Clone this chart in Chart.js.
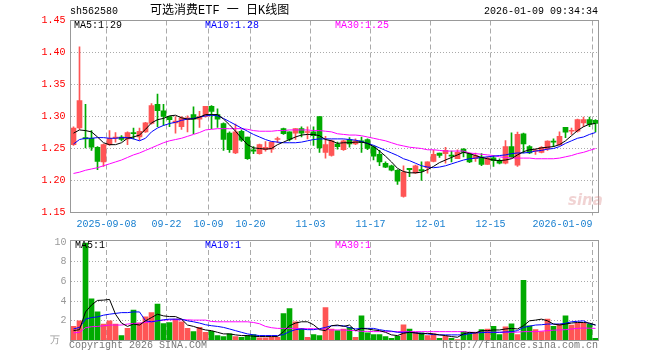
<!DOCTYPE html>
<html>
<head>
<meta charset="utf-8">
<script src="https://cdn.jsdelivr.net/npm/chart.js@4.4.1/dist/chart.umd.min.js"></script>
<style>
  html, body { margin: 0; padding: 0; background: #fff; }
  #wrap { position: relative; width: 660px; height: 360px; overflow: hidden;
          font: 10px "Liberation Mono", "DejaVu Sans Mono", monospace; }
  canvas { position: absolute; left: 0; }
  .t { position: absolute; white-space: pre; line-height: 10px; }
  .frame { position: absolute; border: 1px solid #999; box-sizing: border-box; pointer-events: none; }
</style>
</head>
<body>
<div id="wrap">
  <canvas id="kline" width="660" height="232" style="top:0"></canvas>
  <canvas id="vol" width="660" height="128" style="top:232px"></canvas>

  <div class="frame" style="left:70px;top:20px;width:529px;height:193px"></div>
  <div class="frame" style="left:70px;top:240px;width:529px;height:101px"></div>

  <div class="t" style="left:70px;top:7px;color:#000">sh562580</div>
  <div class="t" style="left:150px;top:4px;font-size:12px;line-height:14px;font-family:'Liberation Mono','Noto Sans CJK SC',monospace">可选消费ETF 一 日K线图</div>
  <div class="t" style="left:484px;top:7px;color:#000">2026-01-09 09:34:34</div>

  <div class="t" style="left:74px;top:21px;color:#000">MA5:1.29</div>
  <div class="t" style="left:205px;top:21px;color:#0000ff">MA10:1.28</div>
  <div class="t" style="left:335px;top:21px;color:#ff00ff">MA30:1.25</div>

  <div class="t" style="left:75px;top:241px;color:#000">MA5:1</div>
  <div class="t" style="left:205px;top:241px;color:#0000ff">MA10:1</div>
  <div class="t" style="left:335px;top:241px;color:#ff00ff">MA30:1</div>

  <div class="t" style="left:50px;top:336px;color:#999">万</div>
  <div class="t" style="left:69px;top:341px;color:#777">Copyright 2026 SINA.COM</div>
  <div class="t" style="left:442px;top:341px;color:#777">http://finance.sina.com.cn</div>
  <div class="t" style="left:568px;top:192px;font:italic bold 15px 'DejaVu Sans',sans-serif;line-height:16px;color:rgba(215,130,130,0.35)">sina</div>
</div>

<script>
// trading days shown, oldest first
const DATES = [
  '2025-08-29',
  '2025-09-01', '2025-09-02', '2025-09-03', '2025-09-04', '2025-09-05',
  '2025-09-08', '2025-09-09', '2025-09-10', '2025-09-11', '2025-09-12',
  '2025-09-15', '2025-09-16', '2025-09-17', '2025-09-18', '2025-09-19',
  '2025-09-22', '2025-09-23', '2025-09-24', '2025-09-25', '2025-09-26',
  '2025-09-29', '2025-09-30', '2025-10-09', '2025-10-10',
  '2025-10-13', '2025-10-14', '2025-10-15', '2025-10-16', '2025-10-17',
  '2025-10-20', '2025-10-21', '2025-10-22', '2025-10-23', '2025-10-24',
  '2025-10-27', '2025-10-28', '2025-10-29', '2025-10-30', '2025-10-31',
  '2025-11-03', '2025-11-04', '2025-11-05', '2025-11-06', '2025-11-07',
  '2025-11-10', '2025-11-11', '2025-11-12', '2025-11-13', '2025-11-14',
  '2025-11-17', '2025-11-18', '2025-11-19', '2025-11-20', '2025-11-21',
  '2025-11-24', '2025-11-25', '2025-11-26', '2025-11-27', '2025-11-28',
  '2025-12-01', '2025-12-02', '2025-12-03', '2025-12-04', '2025-12-05',
  '2025-12-08', '2025-12-09', '2025-12-10', '2025-12-11', '2025-12-12',
  '2025-12-15', '2025-12-16', '2025-12-17', '2025-12-18', '2025-12-19',
  '2025-12-22', '2025-12-23', '2025-12-24', '2025-12-25', '2025-12-26',
  '2025-12-29', '2025-12-30', '2025-12-31',
  '2026-01-05', '2026-01-06', '2026-01-07', '2026-01-08', '2026-01-09',
];

const OPEN = [
  1.256, 1.282, 1.267, 1.266, 1.252, 1.229, 1.256, 1.266, 1.268, 1.265,
  1.275, 1.268, 1.276, 1.289, 1.319, 1.309, 1.300, 1.290, 1.284, 1.295,
  1.303, 1.296, 1.300, 1.316, 1.303, 1.289, 1.274, 1.243, 1.277, 1.268,
  1.248, 1.242, 1.248, 1.249, 1.264, 1.281, 1.276, 1.274, 1.281, 1.275,
  1.276, 1.300, 1.244, 1.239, 1.257, 1.248, 1.264, 1.257, 1.262, 1.264,
  1.253, 1.241, 1.227, 1.223, 1.216, 1.175, 1.219, 1.212, 1.217, 1.220,
  1.230, 1.243, 1.242, 1.239, 1.234, 1.249, 1.242, 1.234, 1.2365, 1.225,
  1.2355, 1.231, 1.227, 1.253, 1.224, 1.273, 1.253, 1.246, 1.244, 1.2495,
  1.261, 1.256, 1.283, 1.277, 1.277, 1.290, 1.295, 1.294,
];
const HIGH = [
  1.284, 1.409, 1.319, 1.278, 1.253, 1.257, 1.278, 1.275, 1.270, 1.276,
  1.282, 1.282, 1.291, 1.320, 1.335, 1.319, 1.300, 1.300, 1.300, 1.301,
  1.315, 1.308, 1.316, 1.317, 1.312, 1.290, 1.276, 1.288, 1.279, 1.268,
  1.253, 1.257, 1.261, 1.260, 1.268, 1.282, 1.276, 1.281, 1.284, 1.284,
  1.284, 1.300, 1.269, 1.263, 1.260, 1.263, 1.267, 1.265, 1.268, 1.265,
  1.254, 1.247, 1.229, 1.224, 1.217, 1.223, 1.219, 1.224, 1.229, 1.229,
  1.247, 1.243, 1.252, 1.246, 1.248, 1.250, 1.243, 1.243, 1.242, 1.237,
  1.239, 1.234, 1.2625, 1.2745, 1.2755, 1.274, 1.2547, 1.2495, 1.253, 1.262,
  1.265, 1.276, 1.283, 1.282, 1.296, 1.299, 1.299, 1.295,
];
const LOW = [
  1.255, 1.280, 1.251, 1.247, 1.217, 1.222, 1.255, 1.260, 1.262, 1.256,
  1.265, 1.263, 1.275, 1.288, 1.284, 1.286, 1.284, 1.274, 1.280, 1.276,
  1.273, 1.283, 1.299, 1.281, 1.283, 1.247, 1.244, 1.242, 1.261, 1.233,
  1.242, 1.241, 1.246, 1.244, 1.259, 1.272, 1.262, 1.264, 1.268, 1.265,
  1.255, 1.244, 1.235, 1.238, 1.249, 1.247, 1.252, 1.256, 1.244, 1.248,
  1.232, 1.223, 1.220, 1.215, 1.194, 1.174, 1.206, 1.211, 1.200, 1.2115,
  1.229, 1.236, 1.227, 1.229, 1.234, 1.237, 1.228, 1.230, 1.223, 1.225,
  1.222, 1.226, 1.226, 1.236, 1.222, 1.243, 1.242, 1.2406, 1.243, 1.247,
  1.253, 1.255, 1.267, 1.272, 1.2755, 1.284, 1.284, 1.276,
];
const CLOSE = [
  1.282, 1.325, 1.265, 1.252, 1.230, 1.256, 1.266, 1.268, 1.264, 1.275,
  1.273, 1.277, 1.290, 1.317, 1.309, 1.300, 1.295, 1.293, 1.298, 1.298,
  1.296, 1.300, 1.316, 1.308, 1.296, 1.264, 1.248, 1.276, 1.263, 1.234,
  1.246, 1.256, 1.252, 1.260, 1.265, 1.273, 1.264, 1.281, 1.274, 1.276,
  1.270, 1.251, 1.256, 1.262, 1.253, 1.262, 1.257, 1.262, 1.259, 1.250,
  1.238, 1.229, 1.221, 1.216, 1.199, 1.213, 1.217, 1.223, 1.215, 1.229,
  1.241, 1.239, 1.247, 1.238, 1.244, 1.244, 1.229, 1.239, 1.225, 1.2355,
  1.231, 1.227, 1.253, 1.237, 1.272, 1.257, 1.243, 1.247, 1.252, 1.2615,
  1.260, 1.269, 1.2755, 1.278, 1.295, 1.295, 1.2875, 1.289,
];

// moving averages as drawn on the price panel
const MA5 = [
  1.274, 1.279, 1.278, 1.276, 1.268, 1.259, 1.256, 1.256, 1.259, 1.266,
  1.268, 1.271, 1.280, 1.290, 1.295, 1.297, 1.301, 1.302, 1.298, 1.296,
  1.296, 1.299, 1.303, 1.303, 1.303, 1.296, 1.287, 1.277, 1.266, 1.256,
  1.251, 1.250, 1.249, 1.250, 1.256, 1.260, 1.264, 1.268, 1.271, 1.272,
  1.272, 1.270, 1.264, 1.262, 1.258, 1.259, 1.259, 1.260, 1.260, 1.258,
  1.253, 1.246, 1.238, 1.229, 1.219, 1.214, 1.212, 1.212, 1.213, 1.217,
  1.222, 1.228, 1.232, 1.236, 1.240, 1.244, 1.242, 1.239, 1.236, 1.234,
  1.232, 1.231, 1.232, 1.234, 1.240, 1.245, 1.248, 1.249, 1.251, 1.252,
  1.253, 1.256, 1.262, 1.270, 1.278, 1.284, 1.288, 1.289,
];
const MA10 = [
  1.257, 1.264, 1.266, 1.266, 1.267, 1.267, 1.266, 1.266, 1.267, 1.267,
  1.265, 1.262, 1.266, 1.276, 1.282, 1.286, 1.289, 1.291, 1.294, 1.296,
  1.297, 1.299, 1.301, 1.302, 1.301, 1.297, 1.292, 1.287, 1.282, 1.277,
  1.272, 1.268, 1.264, 1.261, 1.260, 1.259, 1.259, 1.259, 1.260, 1.262,
  1.264, 1.265, 1.265, 1.265, 1.265, 1.265, 1.264, 1.263, 1.261, 1.258,
  1.255, 1.251, 1.247, 1.243, 1.239, 1.234, 1.231, 1.227, 1.223, 1.221,
  1.220, 1.221, 1.223, 1.226, 1.229, 1.232, 1.234, 1.235, 1.236, 1.237,
  1.238, 1.239, 1.240, 1.242, 1.243, 1.243, 1.244, 1.246, 1.247, 1.249,
  1.250, 1.253, 1.258, 1.262, 1.266, 1.268, 1.272, 1.275,
];
const MA30 = [
  1.211, 1.213, 1.216, 1.218, 1.220, 1.223, 1.226, 1.229, 1.232, 1.236,
  1.240, 1.243, 1.247, 1.251, 1.255, 1.259, 1.262, 1.264, 1.266, 1.269,
  1.272, 1.275, 1.279, 1.280, 1.281, 1.281, 1.281, 1.281, 1.281, 1.280,
  1.278, 1.277, 1.277, 1.277, 1.278, 1.278, 1.279, 1.279, 1.279, 1.279,
  1.278, 1.278, 1.277, 1.276, 1.273, 1.272, 1.271, 1.271, 1.270, 1.268,
  1.266, 1.264, 1.262, 1.259, 1.256, 1.254, 1.252, 1.251, 1.250, 1.248,
  1.248, 1.247, 1.246, 1.246, 1.246, 1.246, 1.243, 1.242, 1.241, 1.240,
  1.239, 1.237, 1.236, 1.235, 1.235, 1.235, 1.235, 1.234, 1.234, 1.234,
  1.234, 1.235, 1.237, 1.239, 1.242, 1.244, 1.247, 1.250,
];

// volume, in 万
const VOLUME = [
  1.43, 2.0, 9.9, 4.23, 2.9, 1.67, 2.0, 1.67, 0.5, 1.23,
  3.1, 1.77, 2.4, 2.83, 3.7, 1.73, 1.83, 2.17, 1.9, 1.23,
  0.9, 1.33, 0.83, 0.93, 0.5, 0.4, 0.67, 0.4, 0.33, 0.5,
  0.6, 0.27, 0.27, 0.33, 0.33, 2.73, 3.23, 1.9, 1.23, 0.33,
  0.6, 0.5, 3.33, 1.17, 1.0, 1.17, 1.33, 0.33, 2.5, 0.77,
  0.6, 0.6, 0.4, 0.23, 0.43, 1.6, 1.17, 0.83, 0.77, 0.5,
  0.67, 0.23, 0.43, 0.23, 0.1, 0.93, 0.83, 0.83, 1.1, 1.17,
  1.43, 0.6, 1.4, 1.7, 0.6, 6.1, 1.5, 1.1, 0.9, 2.17,
  1.43, 1.67, 2.5, 1.57, 1.77, 1.77, 1.67, 0.23,
];
const VOL_MA5 = [
  1.0, 1.1, 2.9, 3.6, 4.07, 4.1, 4.17, 2.67, 1.77, 1.43,
  1.67, 1.57, 2.0, 2.33, 2.67, 2.5, 2.43, 2.43, 2.17, 1.57,
  1.43, 1.23, 1.07, 1.0, 0.83, 0.67, 0.67, 0.57, 0.5, 0.5,
  0.43, 0.4, 0.4, 0.4, 0.4, 0.9, 1.5, 1.77, 1.9, 1.9,
  1.6, 1.1, 1.0, 1.5, 1.57, 1.43, 1.57, 1.0, 1.23, 1.17,
  1.07, 1.0, 0.83, 0.57, 0.5, 0.73, 0.83, 0.77, 0.67, 0.73,
  0.67, 0.57, 0.5, 0.4, 0.33, 0.67, 0.83, 0.77, 1.0, 1.0,
  1.07, 1.07, 1.17, 1.23, 1.17, 1.5, 2.0, 2.07, 2.17, 2.0,
  1.67, 1.57, 1.67, 1.77, 1.83, 1.83, 1.77, 1.57,
];
const VOL_MA10 = [
  1.17, 1.33, 2.17, 2.33, 2.4, 2.57, 2.67, 2.75, 2.83, 2.83,
  2.9, 2.9, 2.0, 1.9, 2.0, 2.1, 2.17, 2.17, 2.17, 2.0,
  1.9, 1.77, 1.6, 1.5, 1.43, 1.33, 1.17, 1.0, 0.83, 0.67,
  0.57, 0.5, 0.5, 0.5, 0.5, 0.6, 0.9, 1.1, 1.17, 1.1,
  1.1, 1.2, 1.33, 1.5, 1.5, 1.5, 1.3, 1.17, 1.23, 1.23,
  1.23, 1.1, 1.0, 0.95, 0.83, 0.83, 0.83, 0.77, 0.73, 0.67,
  0.6, 0.57, 0.57, 0.57, 0.57, 0.57, 0.7, 0.77, 0.8, 0.83,
  0.83, 0.83, 0.87, 0.9, 1.0, 1.33, 1.45, 1.57, 1.6, 1.67,
  1.67, 1.67, 1.75, 1.9, 1.95, 2.0, 1.7, 1.57,
];
const VOL_MA30 = [
  0.77, 0.83, 1.3, 1.4, 1.43, 1.5, 1.57, 1.57, 1.57, 1.67,
  1.73, 1.77, 1.83, 1.9, 2.0, 2.07, 2.1, 2.1, 2.1, 2.1,
  2.07, 2.07, 2.07, 1.93, 1.9, 1.9, 1.9, 1.9, 1.9, 1.9,
  1.83, 1.7, 1.43, 1.3, 1.23, 1.23, 1.23, 1.23, 1.2, 1.2,
  1.2, 1.17, 1.17, 1.07, 1.07, 1.07, 1.03, 1.0, 0.93, 0.93,
  0.9, 0.9, 0.9, 0.9, 0.9, 0.9, 0.9, 0.9, 0.9, 0.9,
  0.9, 0.9, 0.9, 0.9, 0.9, 0.9, 0.83, 0.83, 0.83, 0.83,
  0.83, 0.83, 0.83, 0.83, 0.85, 0.9, 0.9, 0.9, 0.95, 1.0,
  1.05, 1.07, 1.1, 1.17, 1.23, 1.27, 1.25, 1.23,
];

// axis text
const DATE_LABELS = {
  '2025-09-08': '2025-09-08', '2025-09-22': '09-22', '2025-10-09': '10-09',
  '2025-10-20': '10-20', '2025-11-03': '11-03', '2025-11-17': '11-17',
  '2025-12-01': '12-01', '2025-12-15': '12-15', '2026-01-09': '2026-01-09',
};
const GRID_DATES = [
  '2025-09-08', '2025-09-22', '2025-10-09', '2025-10-20', '2025-11-03',
  '2025-11-17', '2025-12-01', '2025-12-15', '2026-01-09',
];
const PRICE_MIN = 1.15, PRICE_MAX = 1.45, PRICE_STEP = 0.05;
const VOL_MIN = 0, VOL_MAX = 10, VOL_STEP = 2;

// palette
const UP   = '#ff5555';
const DOWN = '#00aa00';
const GRIDC = '#aaaaaa';
const monoFont = { family: "'Liberation Mono', 'DejaVu Sans Mono', monospace", size: 10 };

const candleColor = OPEN.map((o, i) => (CLOSE[i] >= o ? UP : DOWN));
const gridIdx = new Set(GRID_DATES.map(d => DATES.indexOf(d)));

const xGridColor = ctx => (gridIdx.has(ctx.index) ? GRIDC : 'rgba(0,0,0,0)');

function lineSet(label, data, color) {
  return {
    type: 'line', label, data,
    borderColor: color, borderWidth: 1,
    pointRadius: 0, tension: 0, fill: false,
  };
}

// --------------------------------------------------------
// Price panel (candles + MA)
// --------------------------------------------------------
new Chart(document.getElementById('kline'), {
  type: 'bar',
  data: {
    labels: DATES,
    datasets: [
      lineSet('MA5', MA5, '#000000'),
      lineSet('MA10', MA10, '#0000ff'),
      lineSet('MA30', MA30, '#ff00ff'),
      {
        label: 'body',
        data: OPEN.map((o, i) => [o, CLOSE[i]]),
        backgroundColor: candleColor,
        barThickness: 5,
        minBarLength: 1,
        grouped: false,
      },
      {
        label: 'wick',
        data: LOW.map((l, i) => [l, HIGH[i]]),
        backgroundColor: candleColor,
        barThickness: 1,
        grouped: false,
      },
    ],
  },
  options: {
    responsive: false,
    animation: false,
    layout: { padding: { left: 0, right: 61.5, top: 20.5, bottom: 0 } },
    plugins: { legend: { display: false }, tooltip: { enabled: false } },
    scales: {
      x: {
        offset: true,
        border: { display: false, dash: [5, 3] },
        grid: { color: xGridColor, tickColor: xGridColor, tickLength: 3, offset: true },
        ticks: {
          autoSkip: false, maxRotation: 0, minRotation: 0,
          align: 'inner', labelOffset: -3, padding: 3,
          color: '#1a80d0', font: monoFont,
          callback: (v, i) => DATE_LABELS[DATES[i]] || '',
        },
        afterFit: s => { s.height = 19.5; },
      },
      y: {
        min: PRICE_MIN, max: PRICE_MAX,
        border: { display: false, dash: [1, 2] },
        grid: {
          drawTicks: false,
          color: c => (c.tick.value > PRICE_MIN + 0.001 && c.tick.value < PRICE_MAX - 0.001 ? GRIDC : 'rgba(0,0,0,0)'),
        },
        ticks: {
          stepSize: PRICE_STEP, padding: 5, color: '#ff0000', font: monoFont,
          callback: v => v.toFixed(2),
        },
        afterFit: s => { s.width = 70.5; },
      },
    },
  },
});

// --------------------------------------------------------
// Volume panel
// --------------------------------------------------------
new Chart(document.getElementById('vol'), {
  type: 'bar',
  data: {
    labels: DATES,
    datasets: [
      lineSet('MA5', VOL_MA5, '#000000'),
      lineSet('MA10', VOL_MA10, '#0000ff'),
      lineSet('MA30', VOL_MA30, '#ff00ff'),
      {
        label: 'volume',
        data: VOLUME,
        backgroundColor: candleColor,
        barThickness: 5,
        grouped: false,
      },
    ],
  },
  options: {
    responsive: false,
    animation: false,
    layout: { padding: { left: 0, right: 61.5, top: 8.5, bottom: 19.5 } },
    plugins: { legend: { display: false }, tooltip: { enabled: false } },
    scales: {
      x: {
        offset: true,
        border: { display: false, dash: [5, 3] },
        grid: { color: xGridColor, drawTicks: false, offset: true },
        ticks: { display: false },
        afterFit: s => { s.height = 0; },
      },
      y: {
        min: VOL_MIN, max: VOL_MAX,
        border: { display: false, dash: [1, 2] },
        grid: {
          drawTicks: false,
          color: c => (c.tick.value > VOL_MIN && c.tick.value < VOL_MAX ? GRIDC : 'rgba(0,0,0,0)'),
        },
        ticks: {
          stepSize: VOL_STEP, padding: 4, color: '#999999', font: monoFont,
          callback: v => (v === 0 ? '' : v),
        },
        afterFit: s => { s.width = 70.5; },
      },
    },
  },
});
</script>
</body>
</html>
